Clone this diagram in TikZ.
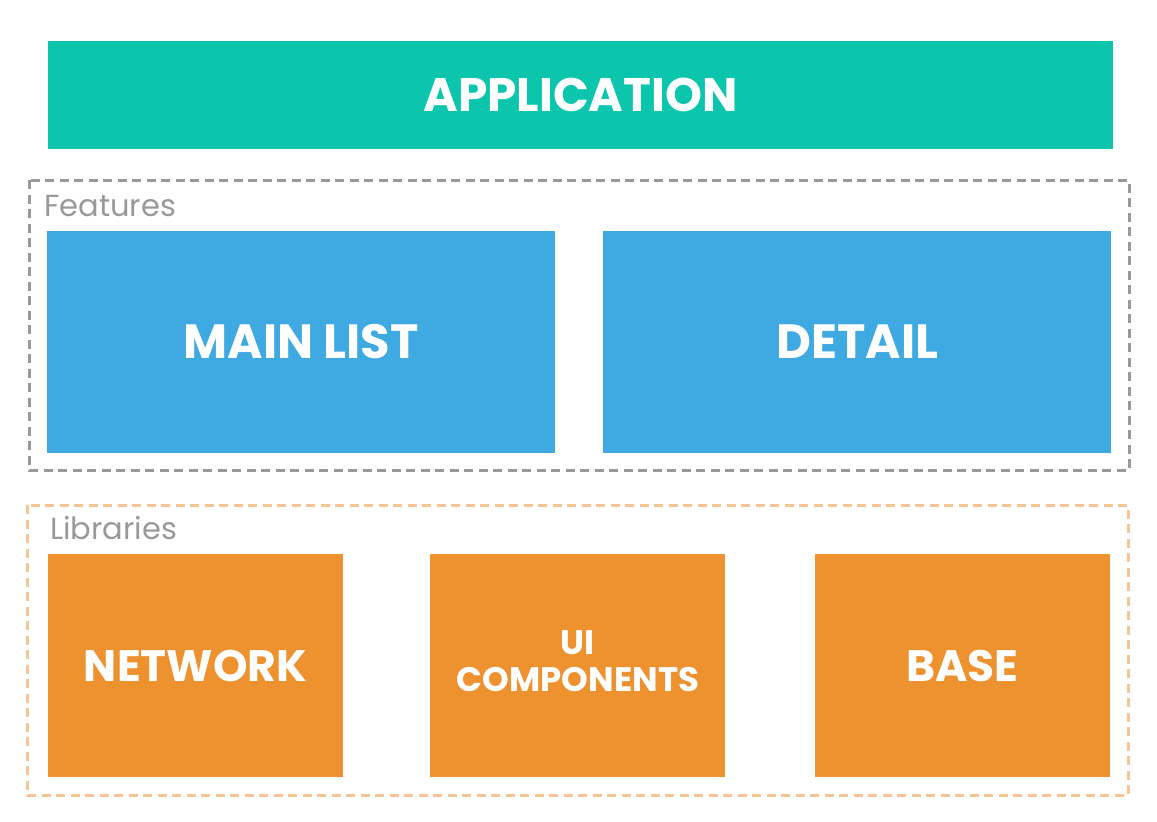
\documentclass[tikz,border=0pt]{standalone}
\usepackage{fontspec}
\setmainfont{Poppins}
\usepackage{xcolor}
\usetikzlibrary{positioning}
\definecolor{appteal}{HTML}{0BC5AD}
\definecolor{featblue}{HTML}{3FA9E1}
\definecolor{liborange}{HTML}{ED922F}
\definecolor{featgray}{HTML}{999999}
\definecolor{libframe}{HTML}{F5C596}

\begin{document}
\begin{tikzpicture}[x=1pt,y=-1pt,
  block/.style={rectangle, inner sep=0pt, text=white, font=\bfseries, align=center},
  frame/.style={line width=3pt, dash pattern=on 9pt off 5.5pt},
  framelabel/.style={anchor=west, inner sep=0pt, text=featgray, font=\fontsize{30.5}{32}\selectfont}]
\useasboundingbox (0,0) rectangle (1157,822);

\node[block, fill=appteal, minimum width=1065pt, minimum height=108pt, font=\bfseries\fontsize{47}{50}\selectfont] (app) at (580.5,95) {APPLICATION};

% features
\draw[frame, featgray] (29,180) rectangle (1129,470);
\node[framelabel] (featlabel) at (44,206) {Features};
\node[block, fill=featblue, minimum width=508pt, minimum height=222pt, font=\bfseries\fontsize{48}{50}\selectfont] (mainlist) at (301,341.5) {MAIN LIST};
\node[block, fill=featblue, minimum width=508pt, minimum height=222pt, font=\bfseries\fontsize{48}{50}\selectfont, right=48pt of mainlist] (detail) {DETAIL};

% libraries
\draw[frame, libframe] (27,505) rectangle (1128,795);
\node[framelabel] (liblabel) at (50,528) {Libraries};
\node[block, fill=liborange, minimum width=295pt, minimum height=223pt, font=\bfseries\fontsize{44}{46}\selectfont] (network) at (195.5,665.5) {NETWORK};
\node[block, fill=liborange, minimum width=295pt, minimum height=223pt, font=\bfseries\fontsize{34}{37}\selectfont, right=87pt of network] (uicomp) {\raisebox{6pt}{\begin{tabular}{@{}c@{}}UI\\COMPONENTS\end{tabular}}};
\node[block, fill=liborange, minimum width=295pt, minimum height=223pt, font=\bfseries\fontsize{44}{46}\selectfont, right=89pt of uicomp] (base) {BASE};
\end{tikzpicture}
\end{document}
